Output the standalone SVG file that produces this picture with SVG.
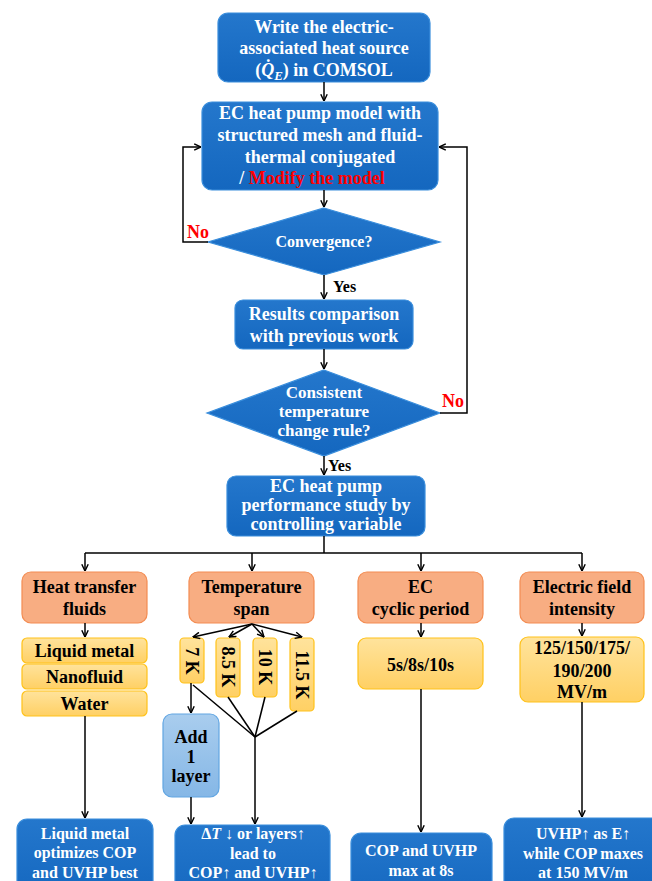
<svg xmlns="http://www.w3.org/2000/svg" width="652" height="881" viewBox="0 0 652 881">
<defs>
<linearGradient id="gBlue" x1="0" y1="0" x2="0" y2="1"><stop offset="0" stop-color="#2477CC"/><stop offset="1" stop-color="#1467BF"/></linearGradient>
<linearGradient id="gYel" x1="0" y1="0" x2="0" y2="1"><stop offset="0" stop-color="#FFE39C"/><stop offset="1" stop-color="#FFD064"/></linearGradient>
<linearGradient id="gLb" x1="0" y1="0" x2="0" y2="1"><stop offset="0" stop-color="#A9CDEE"/><stop offset="1" stop-color="#85B7E6"/></linearGradient>
<marker id="ah" viewBox="0 0 10 10" refX="9.5" refY="5" markerWidth="8" markerHeight="8" markerUnits="userSpaceOnUse" orient="auto"><path d="M1,1 L9.5,5 L1,9" fill="none" stroke="#000" stroke-width="1.8"/></marker>
<style>
.blue{fill:url(#gBlue);stroke:#3A8EDC;stroke-width:1.2}
.orange{fill:#F8AD82;stroke:#F38C52;stroke-width:1.2}
.yel{fill:url(#gYel);stroke:#FFC21A;stroke-width:1.2}
.lb{fill:url(#gLb);stroke:#62A6E2;stroke-width:1.2}
text{font-family:"Liberation Serif","Times New Roman",serif;font-weight:bold;font-size:18px;text-anchor:middle}
.w{fill:#FFFFFF}
.k{fill:#000000}
.r{fill:#FF0000}
.s16{font-size:16px}
.s17{font-size:17px}
.st{text-anchor:start}
.conn path{fill:none;stroke:#000;stroke-width:1.5}
</style>
</defs>
<rect width="652" height="881" fill="#FFFFFF"/>

<g id="n1">
<rect class="blue" x="218" y="13" width="212" height="69" rx="10"/>
<text class="w" x="324" y="33">Write the electric-</text>
<text class="w" x="324" y="54">associated heat source</text>
<text class="w" x="324" y="76">(<tspan font-style="italic">Q̇</tspan><tspan font-style="italic" font-size="13" dy="4">E</tspan><tspan dy="-4">) in COMSOL</tspan></text>
</g>

<g id="n2">
<rect class="blue" x="202" y="102" width="236" height="88" rx="10"/>
<text class="w" x="320" y="119">EC heat pump model with</text>
<text class="w" x="320" y="141">structured mesh and fluid-</text>
<text class="w" x="320" y="163">thermal conjugated</text>
<text x="312" y="184"><tspan class="w">/ </tspan><tspan class="r">Modify the model</tspan></text>
</g>

<g id="d1">
<polygon class="blue" points="324,208 440,242 324,275 208,242"/>
<text class="w s16" x="324" y="247">Convergence?</text>
</g>

<g id="n3">
<rect class="blue" x="235" y="300" width="178" height="49" rx="8"/>
<text class="w" x="324" y="320">Results comparison</text>
<text class="w" x="324" y="342">with previous work</text>
</g>

<g id="d2">
<polygon class="blue" points="324,370 440,413 324,456 207,413"/>
<text class="w s17" x="324" y="398">Consistent</text>
<text class="w s17" x="324" y="417">temperature</text>
<text class="w s17" x="324" y="436">change rule?</text>
</g>

<g id="n4">
<rect class="blue" x="227" y="476" width="198" height="60" rx="9"/>
<text class="w" x="326" y="492">EC heat pump</text>
<text class="w" x="326" y="511">performance study by</text>
<text class="w" x="326" y="530">controlling variable</text>
</g>

<g id="oA">
<rect class="orange" x="22" y="572" width="125" height="51" rx="9"/>
<text class="k" x="84.5" y="593">Heat transfer</text>
<text class="k" x="84.5" y="615">fluids</text>
</g>
<g id="oB">
<rect class="orange" x="189" y="572" width="125" height="51" rx="9"/>
<text class="k" x="251.5" y="593">Temperature</text>
<text class="k" x="251.5" y="615">span</text>
</g>
<g id="oC">
<rect class="orange" x="358" y="572" width="125" height="51" rx="9"/>
<text class="k" x="420.5" y="593">EC</text>
<text class="k" x="420.5" y="615">cyclic period</text>
</g>
<g id="oD">
<rect class="orange" x="520" y="572" width="124" height="51" rx="9"/>
<text class="k" x="582" y="593">Electric field</text>
<text class="k" x="582" y="615">intensity</text>
</g>

<g id="yA1">
<rect class="yel" x="22" y="638" width="125" height="25" rx="5"/>
<text class="k" x="84.5" y="657">Liquid metal</text>
</g>
<g id="yA2">
<rect class="yel" x="22" y="664" width="125" height="25" rx="5"/>
<text class="k" x="84.5" y="683">Nanofluid</text>
</g>
<g id="yA3">
<rect class="yel" x="22" y="691" width="125" height="25" rx="5"/>
<text class="k" x="84.5" y="710">Water</text>
</g>

<g id="t7">
<rect class="yel" x="180" y="638" width="24" height="45" rx="4"/>
<text class="k" transform="translate(192,661) rotate(90)" y="6">7 K</text>
</g>
<g id="t85">
<rect class="yel" x="216" y="638" width="24" height="59" rx="4"/>
<text class="k" transform="translate(228,667) rotate(90)" y="6">8.5 K</text>
</g>
<g id="t10">
<rect class="yel" x="253" y="638" width="24" height="59" rx="4"/>
<text class="k" transform="translate(265,667) rotate(90)" y="6">10 K</text>
</g>
<g id="t115">
<rect class="yel" x="290" y="638" width="24" height="73" rx="4"/>
<text class="k" transform="translate(302,675) rotate(90)" y="6">11.5 K</text>
</g>

<g id="add">
<rect class="lb" x="163" y="714" width="56" height="83" rx="9"/>
<text class="k" x="191" y="743">Add</text>
<text class="k" x="191" y="763">1</text>
<text class="k" x="191" y="782">layer</text>
</g>

<g id="yC">
<rect class="yel" x="358" y="638" width="125" height="51" rx="8"/>
<text class="k" x="420.5" y="671">5s/8s/10s</text>
</g>
<g id="yD">
<rect class="yel" x="520" y="637" width="124" height="65" rx="8"/>
<text class="k" x="582" y="654">125/150/175/</text>
<text class="k" x="582" y="677">190/200</text>
<text class="k" x="582" y="698">MV/m</text>
</g>

<g id="r1">
<rect class="blue" x="17" y="819" width="136" height="80" rx="10"/>
<text class="w s16" x="85" y="839">Liquid metal</text>
<text class="w s16" x="85" y="858">optimizes COP</text>
<text class="w s16" x="85" y="878">and UVHP best</text>
</g>
<g id="r2">
<rect class="blue" x="175" y="825" width="155" height="80" rx="10"/>
<text class="w s16" x="253" y="839">Δ<tspan font-style="italic">T</tspan> ↓ or layers↑</text>
<text class="w s16" x="253" y="859">lead to</text>
<text class="w s16" x="253" y="878">COP↑ and UVHP↑</text>
</g>
<g id="r3">
<rect class="blue" x="351" y="833" width="141" height="70" rx="10"/>
<text class="w s16" x="421" y="856">COP and UVHP</text>
<text class="w s16" x="421" y="876">max at 8s</text>
</g>
<g id="r4">
<rect class="blue" x="504" y="818" width="160" height="80" rx="10"/>
<text class="w s16" x="583" y="839">UVHP↑ as E↑</text>
<text class="w s16" x="583" y="859">while COP maxes</text>
<text class="w s16" x="583" y="878">at 150 MV/m</text>
</g>

<g id="labels">
<text class="r" x="198" y="238">No</text>
<text class="k s16 st" x="333" y="292">Yes</text>
<text class="r" x="453" y="407">No</text>
<text class="k s16 st" x="328" y="471">Yes</text>
</g>

<g id="connectors" class="conn">
<path d="M324,82 V101" marker-end="url(#ah)"/>
<path d="M324,190 V207" marker-end="url(#ah)"/>
<path d="M208,242 H183 V147 H201" marker-end="url(#ah)"/>
<path d="M324,275 V299" marker-end="url(#ah)"/>
<path d="M324,349 V369" marker-end="url(#ah)"/>
<path d="M440,413 H467 V147 H439" marker-end="url(#ah)"/>
<path d="M324,456 V475" marker-end="url(#ah)"/>
<path d="M324,536 V553"/>
<path d="M85,553 H582"/>
<path d="M85,553 V571" marker-end="url(#ah)"/>
<path d="M252,553 V571" marker-end="url(#ah)"/>
<path d="M421,553 V571" marker-end="url(#ah)"/>
<path d="M582,553 V571" marker-end="url(#ah)"/>
<path d="M85,623 V637" marker-end="url(#ah)"/>
<path d="M85,716 V818" marker-end="url(#ah)"/>
<path d="M252,624 L193,637" marker-end="url(#ah)"/>
<path d="M252,624 L229,637" marker-end="url(#ah)"/>
<path d="M252,624 L264,637" marker-end="url(#ah)"/>
<path d="M252,624 L302,637" marker-end="url(#ah)"/>
<path d="M191,683 V713" marker-end="url(#ah)"/>
<path d="M193,685 L255,737"/>
<path d="M228,697 L255,737"/>
<path d="M265,697 L255,737"/>
<path d="M297,711 L255,737"/>
<path d="M255,737 V824" marker-end="url(#ah)"/>
<path d="M191,797 V824" marker-end="url(#ah)"/>
<path d="M421,623 V637" marker-end="url(#ah)"/>
<path d="M421,689 V832" marker-end="url(#ah)"/>
<path d="M582,623 V636" marker-end="url(#ah)"/>
<path d="M582,702 V817" marker-end="url(#ah)"/>
</g>
</svg>
